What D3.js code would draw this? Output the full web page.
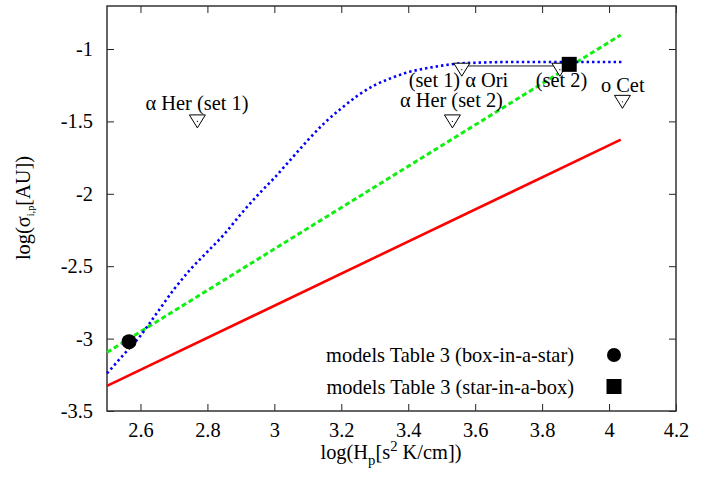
<!DOCTYPE html>
<html>
<head>
<meta charset="utf-8">
<title>sigma vs Hp</title>
<script src="https://cdn.jsdelivr.net/npm/d3@7/dist/d3.min.js"></script>
<style>
  body { margin: 0; background: #fff; }
  svg text { font-family: "Liberation Serif", "Times New Roman", serif; fill: #000; }
</style>
</head>
<body>
<svg id="chart" width="712" height="480"></svg>
<script>
// axis ticks
var xTicks = [2.6, 2.8, 3, 3.2, 3.4, 3.6, 3.8, 4, 4.2];
var yTicks = [-3.5, -3, -2.5, -2, -1.5, -1];

// red solid line
var redX = [2.5, 4.035];
var redY = [-3.327, -1.626];
// green dashed line
var greenX = [2.5, 4.035];
var greenY = [-3.095, -0.903];
// blue dotted curve
var blueX = [2.50, 2.55, 2.60, 2.65, 2.70, 2.75, 2.80, 2.85, 2.90, 2.95, 3.00, 3.05, 3.10, 3.15,
             3.20, 3.25, 3.30, 3.35, 3.40, 3.45, 3.50, 3.55, 3.60, 3.70, 3.80, 3.90, 4.04];
var blueY = [-3.24, -3.11, -2.98, -2.82, -2.66, -2.52, -2.40, -2.28, -2.14, -2.01, -1.89, -1.76, -1.63, -1.51,
             -1.41, -1.32, -1.25, -1.20, -1.16, -1.135, -1.115, -1.10, -1.095, -1.09, -1.09, -1.09, -1.09];

// stars (open triangles)
var starX = [2.77, 3.532, 3.56, 3.853, 4.04];
var starY = [-1.50, -1.50, -1.143, -1.143, -1.365];
// alpha Ori link
var oriX = [3.56, 3.853];
var oriY = [-1.117, -1.117];

// labels (text, x, y in data units)
var labelText = ["\u03B1 Her (set 1)", "\u03B1 Her (set 2)", "(set 1) \u03B1 Ori", "(set 2)", "o Cet"];
var labelX = [2.769, 3.529, 3.550, 3.858, 4.041];
var labelY = [-1.421, -1.40, -1.26, -1.26, -1.30];

// models
var boxInStarX = [2.566], boxInStarY = [-3.021];
var starInBoxX = [3.881], starInBoxY = [-1.106];
var legendText = ["models Table 3 (box-in-a-star)", "models Table 3 (star-in-a-box)"];

var W = 712, H = 480;
var m = {left: 107, right: 36, top: 6, bottom: 69};
var svg = d3.select("#chart");

var x = d3.scaleLinear().domain([2.5, 4.2]).range([m.left, W - m.right]);
var y = d3.scaleLinear().domain([-3.5, -0.703]).range([H - m.bottom, m.top]);

var fs = 20.4;
var fmt = function(d) { return String(d); };

// ticks, mirrored, pointing inward
var g = svg.append("g");
g.append("g").attr("transform", "translate(0," + (H - m.bottom) + ")")
  .call(d3.axisBottom(x).tickValues(xTicks).tickSize(-7).tickPadding(12).tickFormat(fmt))
  .call(function(a) { a.select(".domain").remove(); });
g.append("g").attr("transform", "translate(0," + m.top + ")")
  .call(d3.axisTop(x).tickValues(xTicks).tickSize(-7).tickFormat(""))
  .call(function(a) { a.select(".domain").remove(); });
g.append("g").attr("transform", "translate(" + m.left + ",0)")
  .call(d3.axisLeft(y).tickValues(yTicks).tickSize(-7).tickPadding(14).tickFormat(fmt))
  .call(function(a) { a.select(".domain").remove(); });
g.append("g").attr("transform", "translate(" + (W - m.right) + ",0)")
  .call(d3.axisRight(y).tickValues(yTicks).tickSize(-7).tickFormat(""))
  .call(function(a) { a.select(".domain").remove(); });
g.selectAll(".tick line").attr("stroke", "#222").attr("stroke-width", 1);
g.selectAll(".tick text").attr("font-size", fs);

// frame
svg.append("rect")
  .attr("x", m.left).attr("y", m.top)
  .attr("width", W - m.left - m.right).attr("height", H - m.top - m.bottom)
  .attr("fill", "none").attr("stroke", "#333").attr("stroke-width", 1.5);

function pts(xs, ys) { return xs.map(function(v, i) { return [v, ys[i]]; }); }
var line = d3.line().x(function(d) { return x(d[0]); }).y(function(d) { return y(d[1]); });

svg.append("path").attr("d", line(pts(redX, redY)))
  .attr("fill", "none").attr("stroke", "#ff0000").attr("stroke-width", 2.6);
svg.append("path").attr("d", line(pts(greenX, greenY)))
  .attr("fill", "none").attr("stroke", "#11ee11").attr("stroke-width", 3).attr("stroke-dasharray", "5,3");
svg.append("path").attr("d", line.curve(d3.curveMonotoneX)(pts(blueX, blueY)))
  .attr("fill", "none").attr("stroke", "#0000ff").attr("stroke-width", 2.6).attr("stroke-dasharray", "2.4,3");
line.curve(d3.curveLinear);

// alpha Ori link
svg.append("path").attr("d", line(pts(oriX, oriY)))
  .attr("fill", "none").attr("stroke", "#000").attr("stroke-width", 0.9);

// triangles
var tri = svg.append("g").selectAll("g").data(pts(starX, starY)).enter().append("g")
  .attr("transform", function(d) { return "translate(" + x(d[0]) + "," + y(d[1]) + ")"; });
tri.append("path").attr("d", "M-8,-6.5L8,-6.5L0,6.5Z")
  .attr("fill", "#fff").attr("stroke", "#000").attr("stroke-width", 1);
tri.append("circle").attr("r", 0.6).attr("fill", "#000");

// labels
svg.append("g").selectAll("text").data(labelText).enter().append("text")
  .attr("x", function(d, i) { return x(labelX[i]); })
  .attr("y", function(d, i) { return y(labelY[i]); })
  .attr("text-anchor", "middle").attr("font-size", fs)
  .text(function(d) { return d; });

// model points
svg.append("g").selectAll("circle").data(pts(boxInStarX, boxInStarY)).enter().append("circle")
  .attr("cx", function(d) { return x(d[0]); }).attr("cy", function(d) { return y(d[1]); })
  .attr("r", 7.5).attr("fill", "#000");
svg.append("g").selectAll("rect").data(pts(starInBoxX, starInBoxY)).enter().append("rect")
  .attr("x", function(d) { return x(d[0]) - 7.5; }).attr("y", function(d) { return y(d[1]) - 7.5; })
  .attr("width", 15).attr("height", 15).attr("fill", "#000");

// legend
var lg = svg.append("g");
lg.selectAll("text").data(legendText).enter().append("text")
  .attr("x", 574).attr("y", function(d, i) { return 362 + i * 32; })
  .attr("text-anchor", "end").attr("font-size", fs)
  .text(function(d) { return d; });
lg.append("circle").attr("cx", 614).attr("cy", 355).attr("r", 7).attr("fill", "#000");
lg.append("rect").attr("x", 606.5).attr("y", 379).attr("width", 15).attr("height", 15).attr("fill", "#000");

// axis titles
var xl = svg.append("text").attr("x", 391).attr("y", 459).attr("text-anchor", "middle").attr("font-size", fs);
xl.append("tspan").text("log(H");
xl.append("tspan").attr("font-size", fs * 0.72).attr("dy", 6).text("p");
xl.append("tspan").attr("dy", -6).text("[s");
xl.append("tspan").attr("font-size", fs * 0.72).attr("dy", -8).text("2");
xl.append("tspan").attr("dy", 8).text(" K/cm])");

var yl = svg.append("text").attr("transform", "translate(30,208) rotate(-90)")
  .attr("text-anchor", "middle").attr("font-size", fs);
yl.append("tspan").text("log(\u03C3");
yl.append("tspan").attr("font-size", fs * 0.5).attr("dy", 4).text("i,p");
yl.append("tspan").attr("dy", -4).text("[AU])");
</script>
</body>
</html>
